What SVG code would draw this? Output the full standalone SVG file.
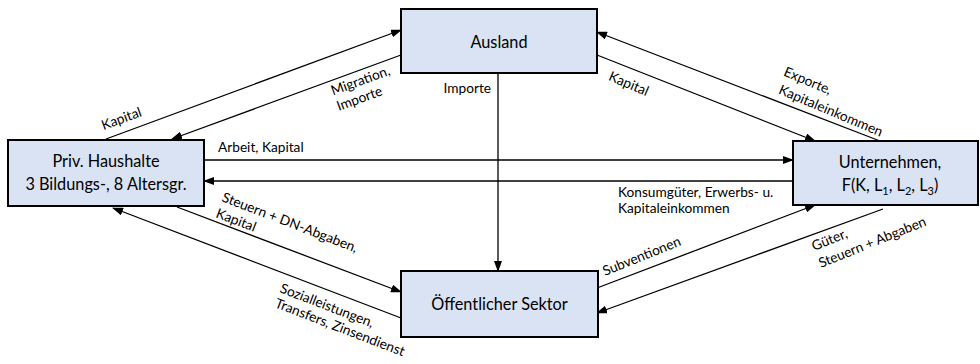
<svg xmlns="http://www.w3.org/2000/svg" width="980" height="364" viewBox="0 0 980 364">
<style>
.box{fill:#dae3f3;stroke:#000;stroke-width:2}
.nt{font-family:Lato,"Liberation Sans",sans-serif;font-size:16.3px;fill:#000;text-anchor:middle}
.lb{font-family:Lato,"Liberation Sans",sans-serif;font-size:13.7px;fill:#000}
.ln{stroke:#000;stroke-width:1.3;fill:none;marker-end:url(#ah)}
</style>
<defs>
<marker id="ah" markerUnits="userSpaceOnUse" markerWidth="11" markerHeight="8" refX="10" refY="4" orient="auto">
<path d="M0,0 L11,4 L0,8 Z" fill="#000"/>
</marker>
</defs>
<rect width="980" height="364" fill="#fff"/>
<g id="connectors">
<line class="ln" x1="106" y1="139" x2="401" y2="30"/>
<line class="ln" x1="401" y1="55" x2="172" y2="139"/>
<line class="ln" x1="498" y1="73" x2="498" y2="271"/>
<line class="ln" x1="880" y1="141" x2="597" y2="32"/>
<line class="ln" x1="597" y1="55" x2="815" y2="141"/>
<line class="ln" x1="204" y1="160" x2="793" y2="160"/>
<line class="ln" x1="793" y1="181" x2="204" y2="181"/>
<line class="ln" x1="177" y1="207" x2="401" y2="292"/>
<line class="ln" x1="401" y1="318" x2="113" y2="208"/>
<line class="ln" x1="597" y1="288" x2="815" y2="205"/>
<line class="ln" x1="883" y1="209" x2="597" y2="313"/>
<text class="lb" transform="translate(123,123) rotate(-20)" text-anchor="middle">Kapital</text>
<text class="lb" transform="translate(362,85) rotate(-20)" text-anchor="middle">Migration,</text>
<text class="lb" transform="translate(361,103) rotate(-20)" text-anchor="middle">Importe</text>
<text class="lb" x="491" y="93" text-anchor="end">Importe</text>
<text class="lb" transform="translate(627,88) rotate(23)" text-anchor="middle">Kapital</text>
<text class="lb" transform="translate(806,85) rotate(23)" text-anchor="middle">Exporte,</text>
<text class="lb" transform="translate(829,115) rotate(23)" text-anchor="middle">Kapitaleinkommen</text>
<text class="lb" x="218" y="152">Arbeit, Kapital</text>
<text class="lb" x="618" y="197">Konsumgüter, Erwerbs- u.</text>
<text class="lb" x="618" y="213">Kapitaleinkommen</text>
<text class="lb" transform="translate(221,201) rotate(21)">Steuern + DN-Abgaben,</text>
<text class="lb" transform="translate(215,217) rotate(21)">Kapital</text>
<text class="lb" transform="translate(279,292) rotate(21)">Sozialleistungen,</text>
<text class="lb" transform="translate(274,307) rotate(21)">Transfers, Zinsendienst</text>
<text class="lb" transform="translate(605,276) rotate(-22)">Subventionen</text>
<text class="lb" transform="translate(814,251) rotate(-22)">Güter,</text>
<text class="lb" transform="translate(821,268) rotate(-22)">Steuern + Abgaben</text>
</g>
<g id="ausland">
<rect class="box" x="401" y="9" width="196" height="64"/>
<text class="nt" x="499" y="48">Ausland</text>
</g>
<g id="haushalte">
<rect class="box" x="8" y="140" width="196" height="66"/>
<text class="nt" x="106" y="167">Priv. Haushalte</text>
<text class="nt" x="106" y="190">3 Bildungs-, 8 Altersgr.</text>
</g>
<g id="unternehmen">
<rect class="box" x="793" y="141" width="185" height="64"/>
<text class="nt" x="890" y="168">Unternehmen,</text>
<text class="nt" x="890" y="191">F(K, L<tspan font-size="11" dy="4">1</tspan><tspan dy="-4">, L</tspan><tspan font-size="11" dy="4">2</tspan><tspan dy="-4">, L</tspan><tspan font-size="11" dy="4">3</tspan><tspan dy="-4">)</tspan></text>
</g>
<g id="oeffentlich">
<rect class="box" x="401" y="271" width="197" height="66"/>
<text class="nt" x="499.5" y="310">Öffentlicher Sektor</text>
</g>
</svg>
